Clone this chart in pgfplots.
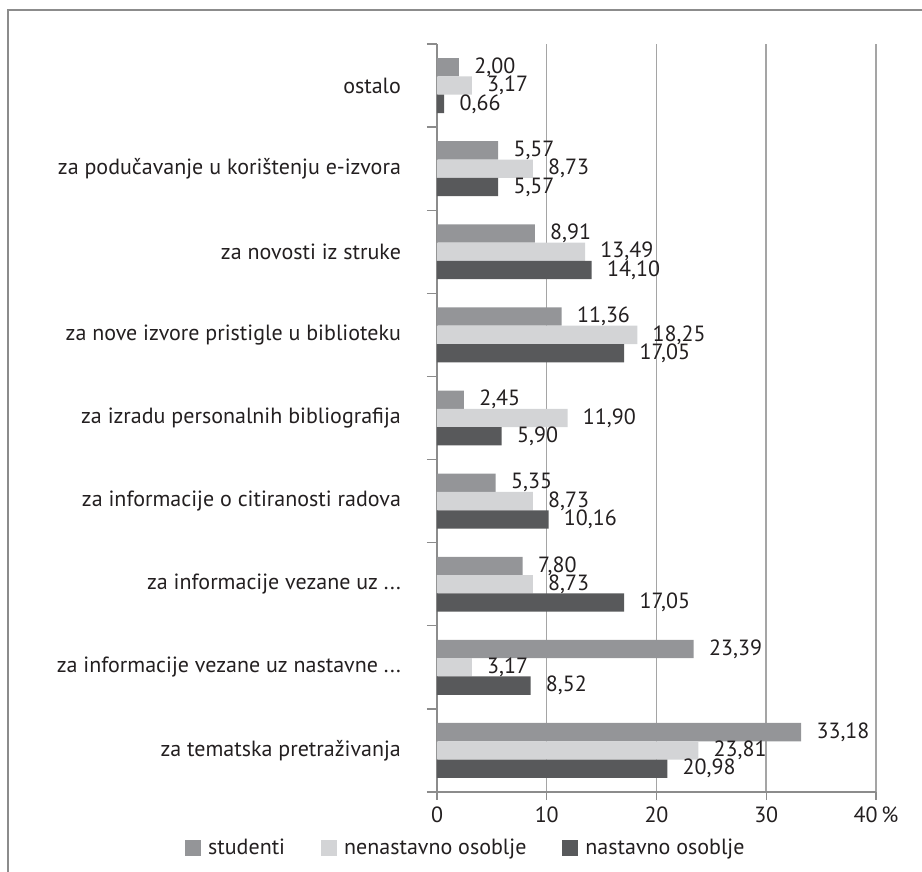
\documentclass[border=0pt]{standalone}
\usepackage{fontspec}
\setmainfont{PT Sans}
\usepackage{pgfplots}
\pgfplotsset{compat=1.18}

\definecolor{cstud}{RGB}{148,149,152}
\definecolor{cnen}{RGB}{211,212,214}
\definecolor{cnas}{RGB}{88,89,91}
\definecolor{cline}{RGB}{140,140,140}
\definecolor{cgrid}{RGB}{165,165,165}
\definecolor{ctext}{RGB}{35,31,32}

\newcommand\cf{\fontsize{11}{13}\selectfont}

\begin{document}
\begin{tikzpicture}
\useasboundingbox (0,0) rectangle (461pt,436pt);
\draw[cline, line width=1pt] (4pt,0) -- (4pt,431pt) -- (461pt,431pt);
\begin{axis}[
  at={(218.5pt,40pt)}, anchor=south west,
  scale only axis,
  width=219.5pt, height=374pt,
  xbar, bar width=9.15pt,
  xmin=0, xmax=40,
  ymin=-0.5, ymax=8.5,
  axis x line*=bottom, axis y line*=left,
  axis line style={cline, line width=0.7pt},
  xtick={0,10,20,30,40},
  xticklabels={0,10,20,30,40\,\%},
  ytick={0,1,2,3,4,5,6,7,8},
  yticklabels={za tematska pretraživanja,
    za informacije vezane uz nastavne .{}.{}.,
    za informacije vezane uz .{}.{}.,
    za informacije o citiranosti radova,
    za izradu personalnih bibliografija,
    za nove izvore pristigle u biblioteku,
    za novosti iz struke,
    za podučavanje u korištenju e-izvora,
    ostalo},
  minor ytick={-0.5,0.5,1.5,2.5,3.5,4.5,5.5,6.5,7.5,8.5},
  tick align=outside,
  major tick length=4pt, minor tick length=5pt,
  y tick style={draw=none},
  minor y tick style={draw=cline, line width=0.7pt},
  x tick style={draw=cline, line width=0.7pt},
  xmajorgrids, major grid style={cgrid, line width=0.75pt},
  tick label style={font=\cf, text=ctext},
  yticklabel style={xshift=-10.5pt},
  /pgf/number format/assume math mode=true,
  nodes near coords={\pgfmathprintnumber[fixed,fixed zerofill,precision=2,use comma]{\pgfplotspointmeta}},
  every node near coord/.append style={anchor=west, inner sep=0pt, xshift=7.5pt, font=\cf, text=ctext},
  legend style={at={(axis description cs:0.068,-0.075)}, anchor=center,
    draw=none, legend columns=3, font=\cf, text=ctext,
    /tikz/every odd column/.append style={column sep=1.5pt},
    /tikz/every even column/.append style={column sep=16pt}},
  legend image code/.code={\fill[#1] (0pt,-4pt) rectangle (8pt,4pt);},
]
\addplot[fill=cstud, draw=none, bar shift=9.15pt] coordinates {
  (33.18,0) (23.39,1) (7.80,2) (5.35,3) (2.45,4) (11.36,5) (8.91,6) (5.57,7) (2.00,8)};
\addplot[fill=cnen, draw=none, bar shift=0pt] coordinates {
  (23.81,0) (3.17,1) (8.73,2) (8.73,3) (11.90,4) (18.25,5) (13.49,6) (8.73,7) (3.17,8)};
\addplot[fill=cnas, draw=none, bar shift=-9.15pt] coordinates {
  (20.98,0) (8.52,1) (17.05,2) (10.16,3) (5.90,4) (17.05,5) (14.10,6) (5.57,7) (0.66,8)};
\legend{studenti, nenastavno osoblje, nastavno osoblje}
\end{axis}
\end{tikzpicture}
\end{document}
